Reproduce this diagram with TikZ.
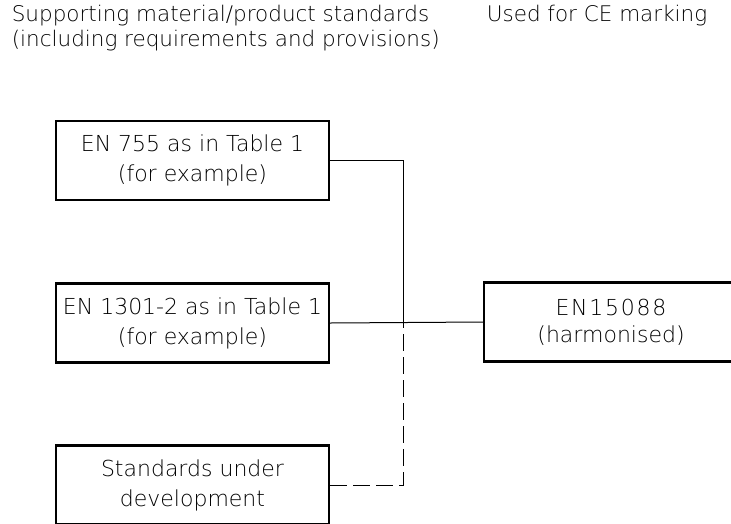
\documentclass[tikz,border=0pt]{standalone}
\usepackage{fontspec}
\setmainfont{DejaVu Sans ExtraLight}
\usetikzlibrary{positioning}

\begin{document}
\begin{tikzpicture}[x=1pt, y=-1pt, line width=1pt,
    every node/.style={font=\fontsize{22}{30}\selectfont},
    headtext/.style={anchor=base west, font=\fontsize{21.5}{25}\selectfont},
    stdbox/.style={draw, line width=2.3pt, minimum width=273pt, minimum height=79pt, align=center, inner sep=0pt}]
\useasboundingbox (0,0) rectangle (731,523);
\clip (0,0) rectangle (731,523);
% headings
\node[headtext] (hdsup) at (8,21) {Supporting material/product standards};
\node[headtext] (hdinc) at (8,46) {(including requirements and provisions)};
\node[headtext] (hdce) at (483,21) {Used for CE marking};

% standards
\node[stdbox] (en755) at (192.5,160.5) {EN 755 as in Table 1\\(for example)};
\node[stdbox] (en1301) at (192.5,323) {EN 1301-2 as in Table 1\\(for example)};
\node[stdbox] (undev) at (192.5,485) {Standards under\\development};
\node[stdbox, minimum width=254pt, font=\fontsize{22}{27}\selectfont] (en15088) at (611,322) {{\addfontfeature{LetterSpace=8}EN15088}\hspace{22pt}\\(harmonised)};

\coordinate (jn) at (403,323);
\draw (en755.east) -| (jn);
\draw (en1301.east) -- (en15088.west);
\draw[dash pattern=on 17pt off 6pt] (undev.east) -| (jn);
\end{tikzpicture}
\end{document}
